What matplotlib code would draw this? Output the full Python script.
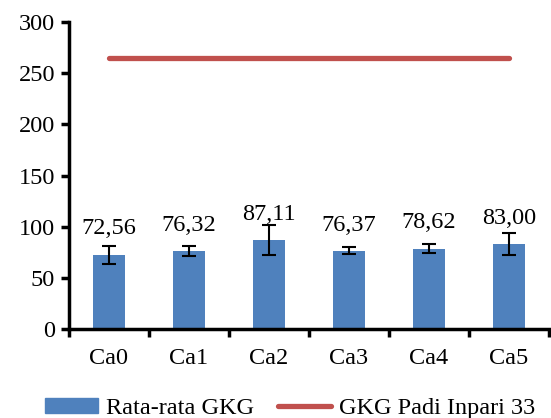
import numpy as np
import matplotlib
matplotlib.use('Agg')
import matplotlib.pyplot as plt
from matplotlib.patches import Patch
from matplotlib.lines import Line2D

# data
kategori = ['Ca0', 'Ca1', 'Ca2', 'Ca3', 'Ca4', 'Ca5']
rata_gkg = [72.56, 76.32, 87.11, 76.37, 78.62, 83.00]
galat = [9.0, 4.9, 14.5, 3.3, 4.6, 10.4]
gkg_inpari = [265, 265, 265, 265, 265, 265]

plt.rcParams['font.family'] = ['Liberation Serif', 'DejaVu Serif']
plt.rcParams['font.size'] = 17.5

fig = plt.figure(figsize=(5.51, 4.18), dpi=100)
ax = fig.add_axes([0.125, 0.213, 0.871, 0.734])

x = np.arange(len(kategori))
ax.bar(x, rata_gkg, width=0.4, color='#4F81BD', zorder=2)
ax.errorbar(x, rata_gkg, yerr=galat, fmt='none', ecolor='black',
            elinewidth=1.5, capsize=5, capthick=1.5, zorder=3)
ax.plot(x, gkg_inpari, color='#C0504D', lw=3.8, solid_capstyle='round', zorder=2)

for xi, v in zip(x, rata_gkg):
    ax.annotate(f'{v:.2f}'.replace('.', ','), (xi, v), xytext=(0, 11),
                textcoords='offset points', ha='center', va='bottom')

ax.set_xlim(-0.5, len(kategori) - 0.5)
ax.set_ylim(0, 300)
ax.set_yticks(range(0, 301, 50))
ax.set_xticks(x)
ax.set_xticklabels(kategori)
ax.set_xticks(np.arange(-0.5, len(kategori)), minor=True)
ax.tick_params(axis='x', which='major', length=0, pad=14)
ax.tick_params(axis='x', which='minor', length=6, width=2.5, direction='out')
ax.tick_params(axis='y', length=6, width=2.5, direction='out', pad=4)

for s in ['top', 'right']:
    ax.spines[s].set_visible(False)
for s in ['left', 'bottom']:
    ax.spines[s].set_linewidth(2.5)

handles = [Patch(color='#4F81BD', label='Rata-rata GKG'),
           Line2D([0], [0], color='#C0504D', lw=3.8, solid_capstyle='round',
                  label='GKG Padi Inpari 33')]
fig.legend(handles=handles, loc='center', bbox_to_anchor=(0.526, 0.022), ncol=2,
           frameon=False, handlelength=2.2, handleheight=0.55, handletextpad=0.3,
           columnspacing=1.0, borderpad=0)

plt.savefig('out.png', dpi=100)
